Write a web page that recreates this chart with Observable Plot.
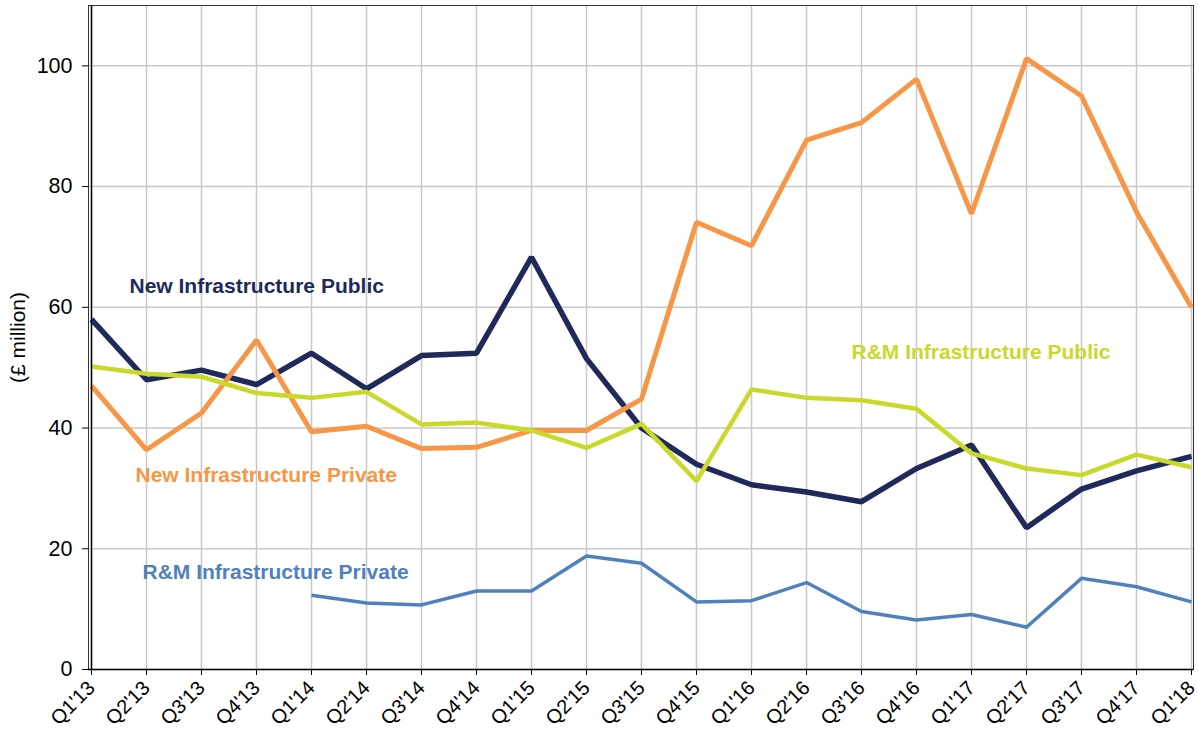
<!DOCTYPE html>
<html><head><meta charset="utf-8">
<script src="https://cdn.jsdelivr.net/npm/d3@7"></script>
<script src="https://cdn.jsdelivr.net/npm/@observablehq/plot@0.6"></script>
<style>
html,body{margin:0;padding:0;background:#fff;}
#chart{font-family:"Liberation Sans",Arial,sans-serif;}
</style></head>
<body><div id="chart"></div>
<script>
const quarters = ["Q1'13","Q2'13","Q3'13","Q4'13","Q1'14","Q2'14","Q3'14","Q4'14","Q1'15","Q2'15","Q3'15","Q4'15","Q1'16","Q2'16","Q3'16","Q4'16","Q1'17","Q2'17","Q3'17","Q4'17","Q1'18"];
const newPublic  = [58.0,48.0,49.6,47.2,52.4,46.5,52.0,52.4,68.3,51.5,40.0,34.0,30.6,29.4,27.8,33.3,37.2,23.5,29.9,32.9,35.3];
const newPrivate = [47.0,36.4,42.5,54.6,39.4,40.3,36.6,36.8,39.6,39.6,44.8,74.1,70.2,87.7,90.6,97.8,75.5,101.2,95.0,75.8,60.0];
const rmPublic   = [50.2,49.0,48.5,45.8,45.0,46.0,40.6,40.9,39.6,36.7,40.7,31.2,46.4,45.0,44.6,43.2,35.8,33.3,32.2,35.6,33.5];
const rmPrivate  = [null,null,null,null,12.3,11.0,10.7,13.0,13.0,18.8,17.6,11.2,11.4,14.4,9.6,8.2,9.1,7.0,15.1,13.7,11.2];
const yTicks = [0,20,40,60,80,100];
const seriesNames = ["New Infrastructure Public","New Infrastructure Private","R&M Infrastructure Public","R&M Infrastructure Private"];
const yLabel = "(£ million)";

const colors = {"New Infrastructure Public":"#1F2A5A","New Infrastructure Private":"#F79646","R&M Infrastructure Public":"#C8D92A","R&M Infrastructure Private":"#4F81BD"};
const widths = {"New Infrastructure Public":5.5,"New Infrastructure Private":5,"R&M Infrastructure Public":4.5,"R&M Infrastructure Private":3.5};

const build = (name, vals) => quarters.map((q,i)=>({q, v: vals[i], s: name}));
const dNP = build(seriesNames[0], newPublic);
const dNV = build(seriesNames[1], newPrivate);
const dRP = build(seriesNames[2], rmPublic);
const dRV = build(seriesNames[3], rmPrivate).filter(d=>d.v!=null);

// label annotations: anchor quarter + value, with pixel nudge
const labels = [
  {s: seriesNames[0], q:"Q1'13", v:63.5, dx:38},
  {s: seriesNames[1], q:"Q1'13", v:32.1, dx:44},
  {s: seriesNames[3], q:"Q1'13", v:16.1, dx:51},
  {s: seriesNames[2], q:"Q2'16", v:52.5, dx:45}
];

const lineMark = (data) => Plot.line(data, {x:"q", y:"v", stroke: colors[data[0].s], strokeWidth: widths[data[0].s], strokeLinejoin:"miter", strokeLinecap:"butt"});

const chart = Plot.plot({
  width: 1198, height: 734,
  marginLeft: 88, marginRight: 5, marginTop: 5, marginBottom: 65,
  style: {fontFamily: '"Liberation Sans", Arial, sans-serif', background:"#fff", color:"#000"},
  x: {type:"point", domain: quarters, padding: 0},
  y: {domain:[0,110]},
  marks: [
    Plot.gridX(quarters, {stroke:"#c8c8c8", strokeOpacity:1, strokeWidth:1.5}),
    Plot.gridY(yTicks, {stroke:"#c8c8c8", strokeOpacity:1, strokeWidth:1.5}),
    Plot.frame({stroke:"#333", strokeWidth:1}),
    lineMark(dNP),
    lineMark(dNV),
    lineMark(dRV),
    lineMark(dRP),
    Plot.axisY({ticks: yTicks, tickSize:6, tickPadding:10, fontSize:21.5, label:null}),
    Plot.text([yLabel], {text: d=>d, frameAnchor:"left", dx:-70, rotate:-90, textAnchor:"middle", fontSize:21, fill:"#000"}),
    Plot.axisX({ticks: quarters, tickSize:6, tickRotate:-45, tickPadding:9, fontSize:20, label:null}),
    Plot.ruleY([0], {stroke:"#000", strokeWidth:1.5}),
    Plot.ruleX([quarters[0]], {stroke:"#000", strokeWidth:1.5}),
    Plot.text(labels, {x:"q", y:"v", text:"s", textAnchor:"start", fontSize:21, fontWeight:"bold", fill: d=>colors[d.s]})
  ]
});

// apply per-label dx to the series labels (last text mark)
const textGroups = chart.querySelectorAll("g[aria-label='text']");
const lastGroup = textGroups[textGroups.length-1];
lastGroup.querySelectorAll("text").forEach((t,i)=>{
  const lab = labels[i];
  if (lab) t.setAttribute("dx", lab.dx);
});
document.getElementById("chart").appendChild(chart);
</script>
</body></html>
